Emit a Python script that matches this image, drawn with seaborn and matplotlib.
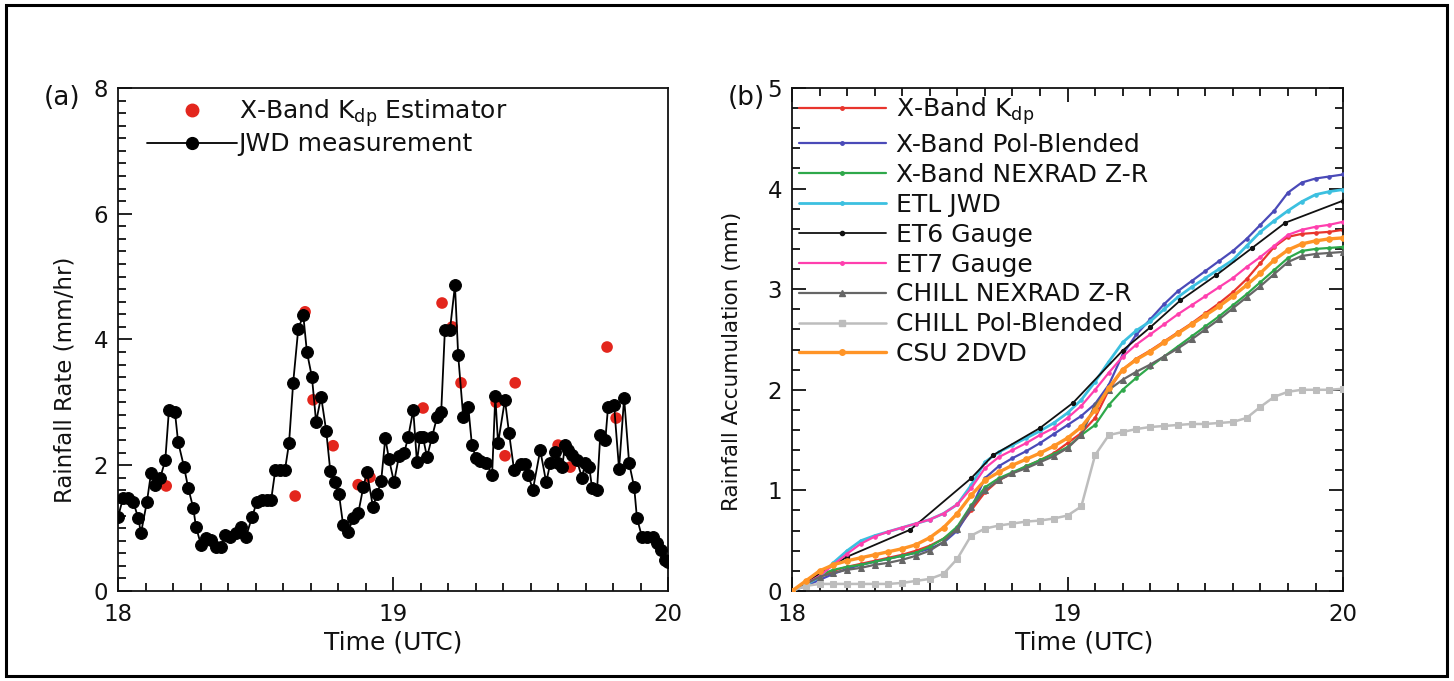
import matplotlib
matplotlib.use("Agg")
import matplotlib.pyplot as plt
from matplotlib.lines import Line2D
from matplotlib.patches import Rectangle
from matplotlib.ticker import MultipleLocator
import numpy as np
import pandas as pd
import seaborn as sns

# ---------------- panel (a): rain rate ----------------
jwd_minutes = [0.0, 1.1, 2.2, 3.3, 4.4, 5.0, 6.3, 7.2, 8.1, 9.2, 10.3, 11.1, 12.4, 13.1, 14.4,
               15.3, 16.4, 17.0, 18.1, 19.2, 20.3, 21.4, 22.5, 23.3, 24.4, 25.7, 26.8, 27.9,
               29.2, 30.3, 31.4, 32.5, 33.4, 34.3, 35.3, 36.4, 37.3, 38.2, 39.3, 40.4, 41.2,
               42.3, 43.2, 44.3, 45.4, 46.3, 47.3, 48.2, 49.1, 50.2, 51.3, 52.4, 53.5, 54.3,
               55.6, 56.5, 57.4, 58.3, 59.1, 60.2, 61.3, 62.4, 63.3, 64.4, 65.2, 65.9, 66.5,
               67.4, 68.5, 69.6, 70.5, 71.3, 72.4, 73.5, 74.2, 75.3, 76.4, 77.2, 78.1, 79.0,
               80.3, 81.6, 82.3, 82.9, 84.4, 85.3, 86.4, 87.9, 88.8, 89.5, 90.5, 92.1, 93.4,
               94.3, 95.3, 96.0, 96.9, 97.5, 98.2, 99.1, 100.1, 101.2, 101.9, 102.8, 103.4,
               104.5, 105.2, 106.3, 106.9, 108.2, 109.3, 110.4, 111.5, 112.6, 113.2, 114.3,
               115.4, 116.7, 117.6, 118.5, 119.3, 120.0]
jwd_rate = [1.18, 1.48, 1.48, 1.42, 1.16, 0.92, 1.42, 1.88, 1.68, 1.80, 2.08, 2.88, 2.85, 2.37, 1.97,
            1.64, 1.32, 1.02, 0.73, 0.85, 0.81, 0.70, 0.70, 0.89, 0.86, 0.92, 1.02, 0.86,
            1.17, 1.42, 1.45, 1.45, 1.45, 1.92, 1.92, 1.92, 2.35, 3.31, 4.16, 4.39, 3.80,
            3.40, 2.69, 3.09, 2.55, 1.91, 1.73, 1.54, 1.05, 0.94, 1.16, 1.24, 1.65, 1.89,
            1.34, 1.54, 1.75, 2.43, 2.10, 1.73, 2.15, 2.19, 2.45, 2.88, 2.05, 2.45, 2.45,
            2.13, 2.45, 2.77, 2.85, 4.15, 4.15, 4.86, 3.75, 2.77, 2.93, 2.32, 2.11, 2.07,
            2.04, 1.84, 3.10, 2.35, 3.04, 2.51, 1.92, 2.02, 2.02, 1.84, 1.61, 2.24, 1.73,
            2.03, 2.21, 2.03, 1.97, 2.32, 2.24, 2.16, 2.08, 1.80, 2.03, 1.97, 1.64,
            1.61, 2.48, 2.40, 2.93, 2.96, 1.94, 3.07, 2.03, 1.65, 1.16, 0.86,
            0.86, 0.86, 0.76, 0.65, 0.49, 0.46]

kdp_hours = [18.175, 18.644, 18.680, 18.709, 18.782, 18.873, 18.916, 19.109, 19.178,
             19.215, 19.247, 19.375, 19.407, 19.444, 19.600, 19.644, 19.778, 19.811]
kdp_rate = [1.67, 1.51, 4.44, 3.04, 2.31, 1.69, 1.81, 2.91, 4.58,
            4.20, 3.31, 3.00, 2.15, 3.31, 2.32, 1.97, 3.88, 2.75]

# ---------------- panel (b): accumulations ----------------
acc_hours = [18.00, 18.05, 18.10, 18.15, 18.20, 18.25, 18.30, 18.35, 18.40, 18.45,
             18.50, 18.55, 18.60, 18.65, 18.70, 18.75, 18.80, 18.85, 18.90, 18.95,
             19.00, 19.05, 19.10, 19.15, 19.20, 19.25, 19.30, 19.35, 19.40, 19.45,
             19.50, 19.55, 19.60, 19.65, 19.70, 19.75, 19.80, 19.85, 19.90, 19.95, 20.00]
xband_kdp = [0.00, 0.07, 0.15, 0.20, 0.24, 0.27, 0.30, 0.33, 0.36, 0.40,
             0.45, 0.52, 0.62, 0.80, 0.98, 1.10, 1.17, 1.24, 1.30, 1.37,
             1.47, 1.57, 1.72, 2.00, 2.20, 2.31, 2.39, 2.48, 2.57, 2.66,
             2.76, 2.86, 2.97, 3.10, 3.26, 3.42, 3.52, 3.55, 3.56, 3.57, 3.59]
xband_pol = [0.00, 0.05, 0.11, 0.17, 0.22, 0.26, 0.29, 0.32, 0.35, 0.38,
             0.42, 0.48, 0.60, 0.82, 1.12, 1.24, 1.32, 1.39, 1.47, 1.56,
             1.65, 1.74, 1.86, 2.05, 2.35, 2.55, 2.70, 2.85, 2.98, 3.08,
             3.18, 3.28, 3.38, 3.50, 3.64, 3.78, 3.96, 4.06, 4.10, 4.12, 4.14]
xband_nexrad = [0.00, 0.08, 0.16, 0.21, 0.24, 0.26, 0.29, 0.32, 0.35, 0.38,
                0.44, 0.52, 0.64, 0.85, 1.03, 1.12, 1.18, 1.24, 1.30, 1.36,
                1.43, 1.55, 1.65, 1.85, 2.00, 2.12, 2.23, 2.33, 2.43, 2.53,
                2.63, 2.73, 2.84, 2.95, 3.07, 3.19, 3.31, 3.38, 3.40, 3.41, 3.42]
etl_jwd = [0.00, 0.06, 0.14, 0.28, 0.40, 0.50, 0.55, 0.59, 0.63, 0.67,
           0.71, 0.77, 0.86, 1.05, 1.28, 1.38, 1.45, 1.52, 1.59, 1.67,
           1.77, 1.90, 2.08, 2.28, 2.47, 2.59, 2.68, 2.80, 2.92, 3.02,
           3.11, 3.20, 3.29, 3.43, 3.57, 3.68, 3.78, 3.87, 3.94, 3.97, 3.99]
et7_gauge = [0.00, 0.07, 0.15, 0.26, 0.37, 0.47, 0.54, 0.59, 0.63, 0.67,
             0.71, 0.77, 0.86, 1.02, 1.22, 1.33, 1.40, 1.47, 1.55, 1.62,
             1.72, 1.84, 2.00, 2.17, 2.33, 2.45, 2.55, 2.65, 2.75, 2.84,
             2.93, 3.02, 3.11, 3.22, 3.32, 3.43, 3.54, 3.59, 3.62, 3.64, 3.67]
chill_nexrad = [0.00, 0.07, 0.14, 0.18, 0.21, 0.23, 0.26, 0.28, 0.31, 0.35,
                0.40, 0.49, 0.62, 0.83, 1.00, 1.10, 1.17, 1.22, 1.28, 1.34,
                1.42, 1.55, 1.85, 2.00, 2.10, 2.18, 2.25, 2.33, 2.41, 2.50,
                2.60, 2.70, 2.81, 2.92, 3.03, 3.15, 3.27, 3.33, 3.35, 3.36, 3.37]
chill_pol = [0.00, 0.05, 0.07, 0.07, 0.07, 0.07, 0.07, 0.07, 0.08, 0.10,
             0.12, 0.17, 0.32, 0.55, 0.62, 0.65, 0.67, 0.69, 0.70, 0.72,
             0.75, 0.84, 1.35, 1.55, 1.58, 1.61, 1.63, 1.64, 1.65, 1.66,
             1.66, 1.67, 1.68, 1.72, 1.83, 1.93, 1.98, 2.00, 2.00, 2.00, 2.01]
csu_2dvd = [0.00, 0.10, 0.20, 0.26, 0.30, 0.33, 0.36, 0.39, 0.42, 0.46,
            0.53, 0.63, 0.77, 0.95, 1.10, 1.18, 1.25, 1.31, 1.37, 1.44,
            1.52, 1.63, 1.80, 2.02, 2.20, 2.30, 2.38, 2.47, 2.56, 2.65,
            2.74, 2.83, 2.93, 3.04, 3.16, 3.29, 3.39, 3.45, 3.48, 3.50, 3.51]
et6_hours = [18.00, 18.20, 18.43, 18.65, 18.73, 18.90, 19.02, 19.20, 19.30,
             19.41, 19.54, 19.67, 19.79, 20.00]
et6_gauge = [0.00, 0.34, 0.61, 1.12, 1.35, 1.62, 1.87, 2.39, 2.62,
             2.89, 3.14, 3.41, 3.66, 3.88]

series_labels = ["X-Band K$_{dp}$", "X-Band Pol-Blended", "X-Band NEXRAD Z-R",
                 "ETL JWD", "ET6 Gauge", "ET7 Gauge", "CHILL NEXRAD Z-R",
                 "CHILL Pol-Blended", "CSU 2DVD"]

sns.set_theme(style="ticks")
plt.rcParams["font.family"] = ["DejaVu Sans"]
plt.rcParams["mathtext.default"] = "regular"
for key in ("text.color", "axes.labelcolor", "xtick.color", "ytick.color", "axes.edgecolor"):
    plt.rcParams[key] = "#111111"
TICK_FS = 16.5   # tick labels
TEXT_FS = 18     # legends and x labels

fig = plt.figure(figsize=(14.54, 6.81), dpi=100)
ax_a = fig.add_axes([0.0812, 0.1322, 0.3783, 0.7386])
ax_b = fig.add_axes([0.5447, 0.1322, 0.3790, 0.7386])

# outer frame around the figure
fig.patches.append(Rectangle((0.0041, 0.0073), 0.9911, 0.9854, transform=fig.transFigure,
                             fill=False, edgecolor="black", linewidth=2.2))

# ---- panel (a)
sns.scatterplot(x=kdp_hours, y=kdp_rate, ax=ax_a, color="#e3261d", s=70,
                edgecolor="none", zorder=2, legend=False)
jwd_hours = [18 + m / 60.0 for m in jwd_minutes]
sns.lineplot(x=jwd_hours, y=jwd_rate, ax=ax_a, sort=False, color="black", lw=1.3,
             marker="o", markersize=8.5, markeredgecolor="black", zorder=3)
ax_a.set_xlim(18, 20)
ax_a.set_ylim(0, 8)
ax_a.xaxis.set_major_locator(MultipleLocator(1))
ax_a.xaxis.set_minor_locator(MultipleLocator(0.1))
ax_a.yaxis.set_major_locator(MultipleLocator(2))
ax_a.yaxis.set_minor_locator(MultipleLocator(0.2))
ax_a.tick_params(which="both", direction="in", top=False, right=False, width=1.3,
                 labelsize=TICK_FS)
ax_a.tick_params(which="major", length=10)
ax_a.tick_params(which="minor", length=6)
ax_a.tick_params(axis="x", which="major", pad=9)
ax_a.tick_params(axis="y", which="major", pad=7)
ax_a.set_xlabel("Time (UTC)", fontsize=TEXT_FS)
ax_a.set_ylabel("Rainfall Rate (mm/hr)", fontsize=TICK_FS)
ax_a.xaxis.set_label_coords(0.5, -0.078)
ax_a.yaxis.set_label_coords(-0.075, 0.42)

h_a = [Line2D([], [], ls="none", marker="o", color="#e3261d", markersize=9),
       Line2D([], [], color="black", lw=1.3, marker="o", markersize=8.5)]
ax_a.legend(h_a, ["X-Band K$_{dp}$ Estimator", "JWD measurement"], loc="upper left",
            bbox_to_anchor=(0.052, 0.982), frameon=False, fontsize=TEXT_FS, handlelength=3.6,
            handletextpad=0.08, labelspacing=0.15, borderaxespad=0, borderpad=0)

# ---- panel (b)
colors = ["#e8352d", "#4a4ab8", "#2ea84a", "#3cc0e0", "#111111", "#ff3fae",
          "#666666", "#bdbdbd", "#ff9426"]
markers = [".", ".", ".", ".", ".", ".", "^", "s", "o"]
msizes = [5, 5, 5, 5, 6, 5, 5, 4.5, 4]
lwidths = [1.6, 1.6, 1.6, 2.0, 1.3, 1.6, 1.6, 1.8, 2.4]
values = [xband_kdp, xband_pol, xband_nexrad, etl_jwd, et6_gauge, et7_gauge,
          chill_nexrad, chill_pol, csu_2dvd]
frames = []
for lab, vals in zip(series_labels, values):
    xs = et6_hours if vals is et6_gauge else acc_hours
    frames.append(pd.DataFrame({"time": xs, "acc": vals, "series": lab}))
acc_df = pd.concat(frames, ignore_index=True)

for i, lab in enumerate(series_labels):
    sub = acc_df[acc_df["series"] == lab]
    sns.lineplot(data=sub, x="time", y="acc", ax=ax_b, color=colors[i], lw=lwidths[i],
                 marker=markers[i], markersize=msizes[i], markeredgecolor=colors[i],
                 zorder=2 + i)

ax_b.set_xlim(18, 20)
ax_b.set_ylim(0, 5)
ax_b.xaxis.set_major_locator(MultipleLocator(1))
ax_b.xaxis.set_minor_locator(MultipleLocator(0.1))
ax_b.yaxis.set_major_locator(MultipleLocator(1))
ax_b.yaxis.set_minor_locator(MultipleLocator(0.2))
ax_b.tick_params(which="both", direction="in", top=True, right=True, width=1.3,
                 labelsize=TICK_FS)
ax_b.tick_params(which="major", length=10)
ax_b.tick_params(which="minor", length=6)
ax_b.tick_params(axis="x", which="major", pad=9)
ax_b.tick_params(axis="y", which="major", pad=7)
ax_b.set_xlabel("Time (UTC)", fontsize=TEXT_FS)
ax_b.set_ylabel("Rainfall Accumulation (mm)", fontsize=15.5)
ax_b.xaxis.set_label_coords(0.53, -0.078)
ax_b.yaxis.set_label_coords(-0.09, 0.457)

h_b = [Line2D([], [], color=c, lw=w, marker=m, markersize=s, markeredgecolor=c)
       for c, w, m, s in zip(colors, lwidths, markers, msizes)]
ax_b.legend(h_b, series_labels, loc="upper left", bbox_to_anchor=(0.012, 0.985),
            frameon=False, fontsize=TEXT_FS, handlelength=3.5, handletextpad=0.4,
            labelspacing=0.235, borderaxespad=0, borderpad=0, numpoints=1)

for ax in (ax_a, ax_b):
    for sp in ax.spines.values():
        sp.set_visible(True)
        sp.set_linewidth(1.3)

fig.text(0.0426, 0.856, "(a)", fontsize=19, ha="center", va="center")
fig.text(0.513, 0.856, "(b)", fontsize=19, ha="center", va="center")

fig.savefig("out.png", dpi=100, facecolor="white")
